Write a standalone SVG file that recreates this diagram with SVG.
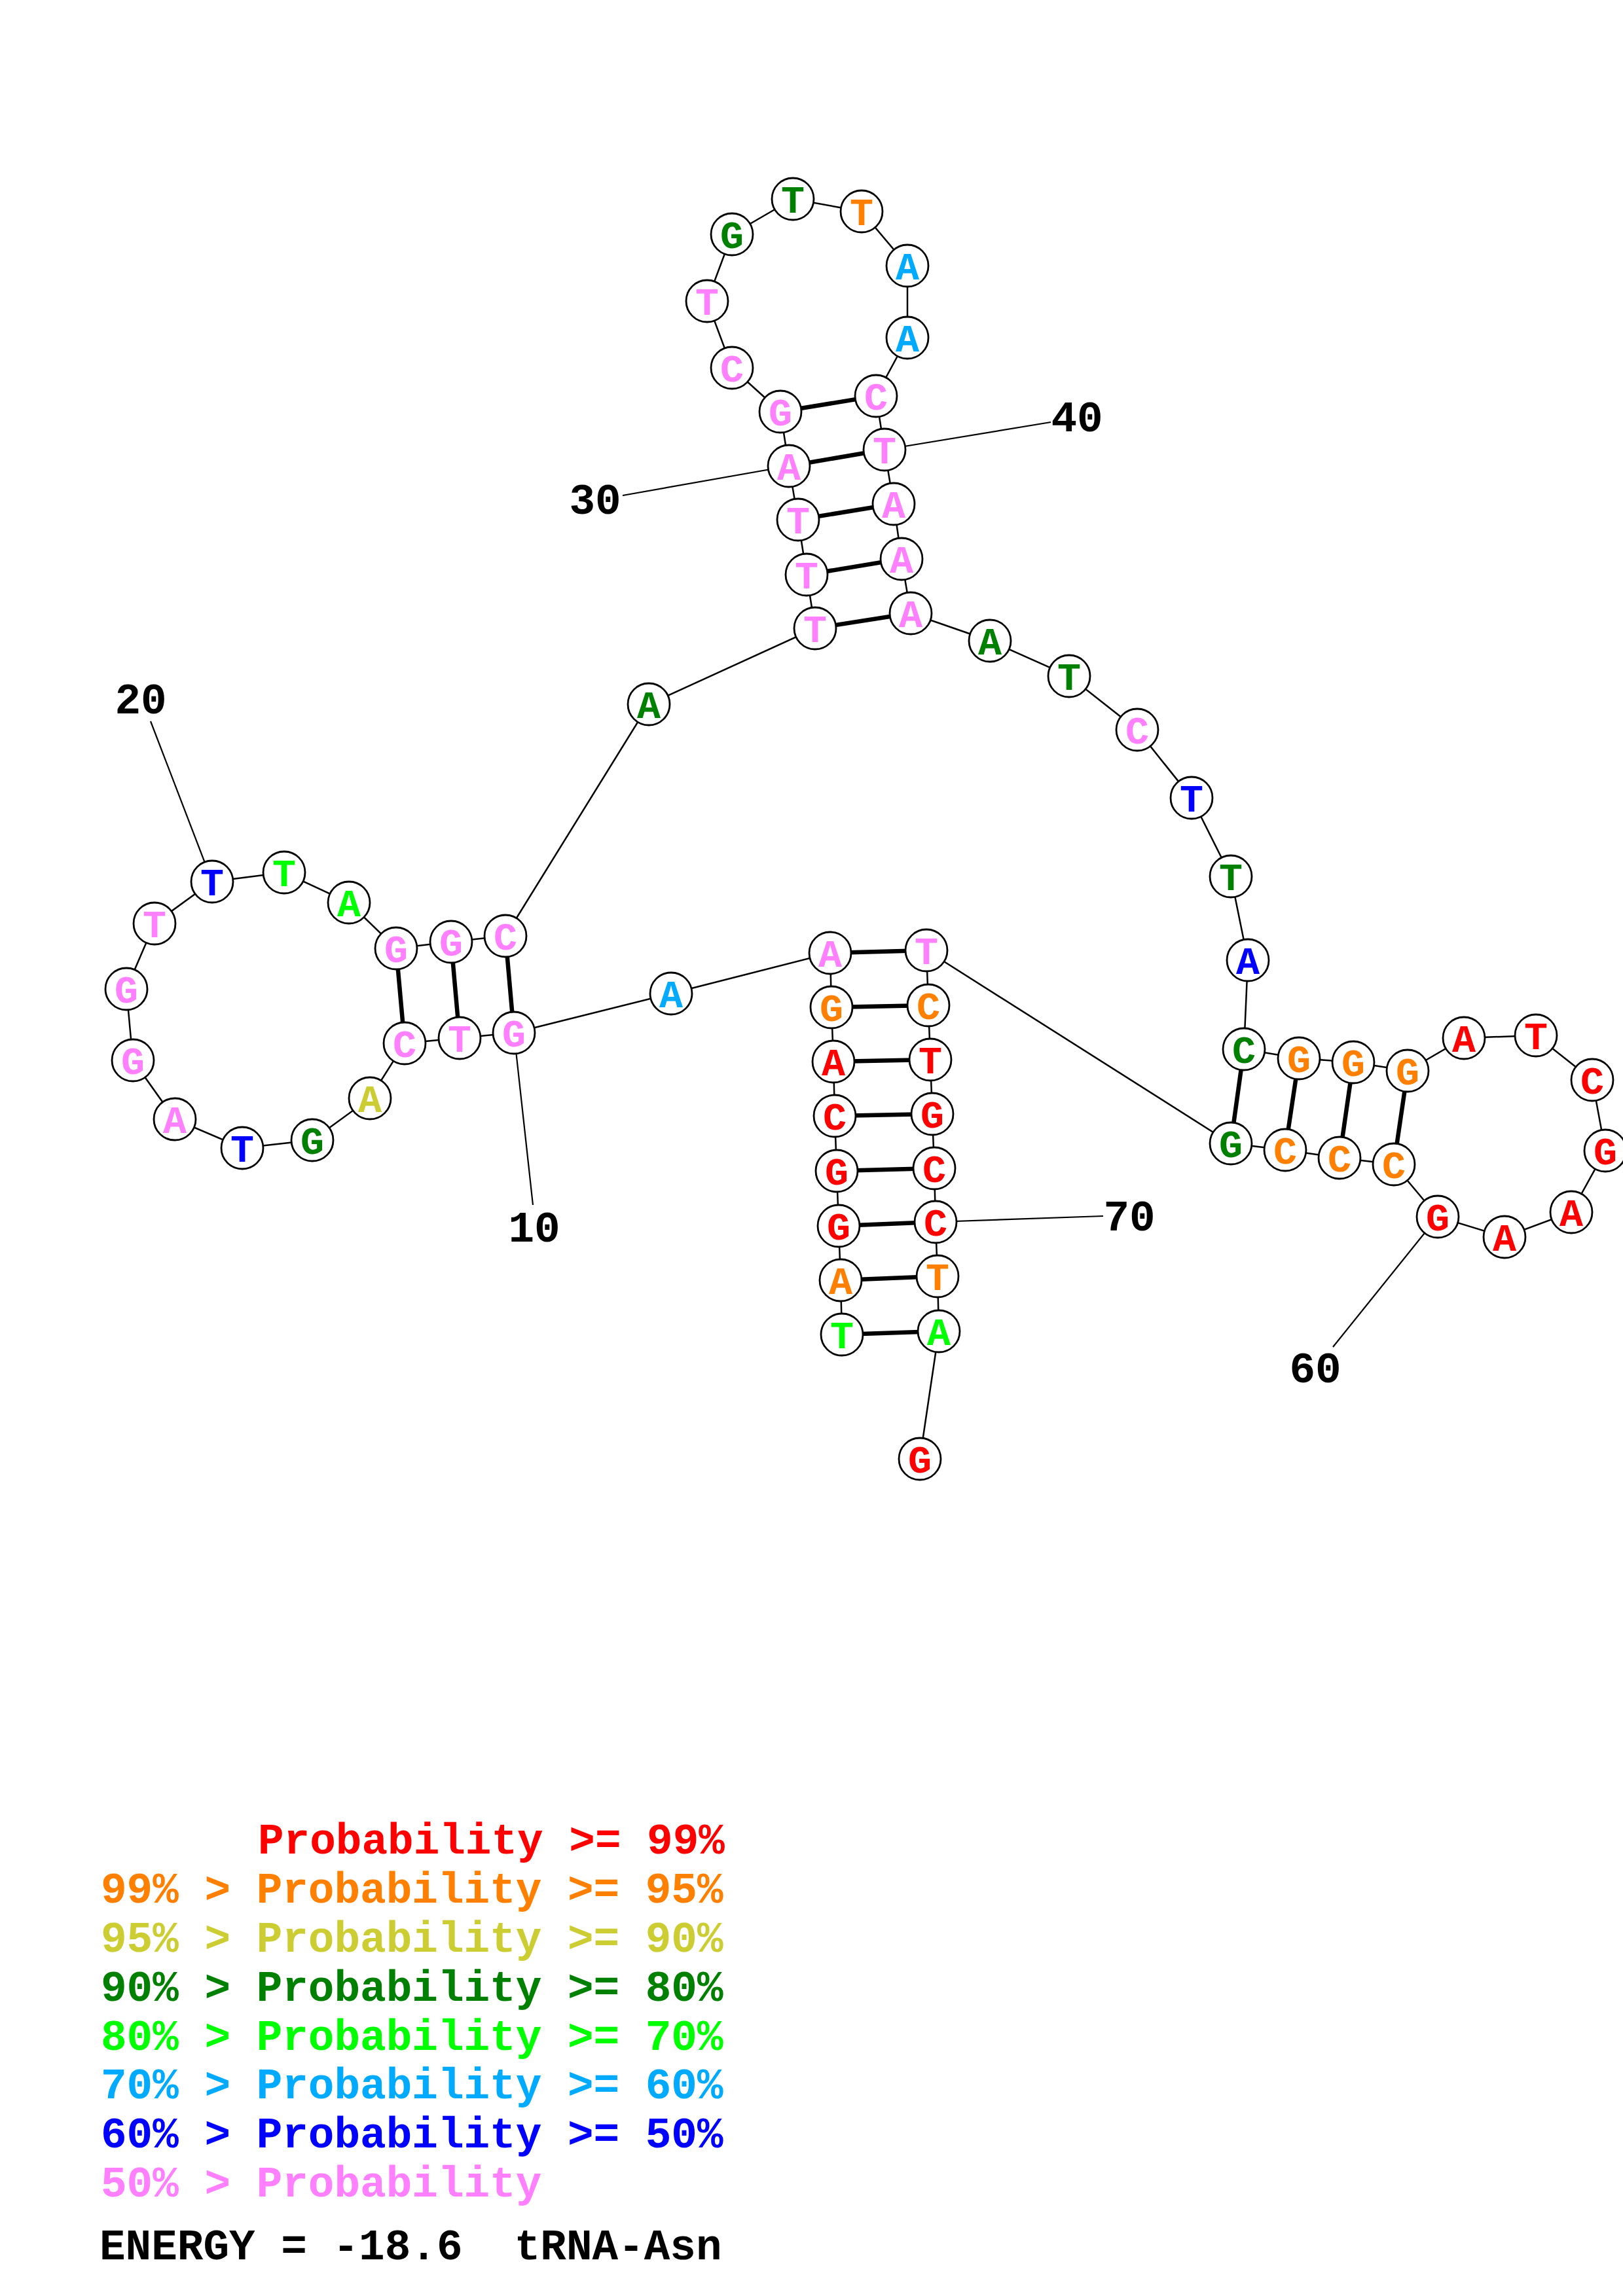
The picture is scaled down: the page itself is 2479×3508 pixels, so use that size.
<svg xmlns="http://www.w3.org/2000/svg" width="2479" height="3508" viewBox="0 0 2479 3508">
<style>
.bb{stroke:#000;stroke-width:2.5;fill:none}
.bp{stroke:#000;stroke-width:6.5;fill:none}
.pt{stroke:#000;stroke-width:2.2;fill:none}
.n circle{fill:#fff;stroke:#000;stroke-width:2.8}
.n text{font-family:"Liberation Mono","Courier New",monospace;font-weight:bold;font-size:60px;text-anchor:middle}
.lab{font-family:"Liberation Mono","Courier New",monospace;font-weight:bold;font-size:66px;text-anchor:middle;fill:#000}
.leg{font-family:"Liberation Mono","Courier New",monospace;font-weight:bold;font-size:66px;white-space:pre}
.r{fill:#FF0000}.o{fill:#FF8000}.y{fill:#CCCC33}.dg{fill:#008000}.g{fill:#00FF00}.s{fill:#00AAFF}.b{fill:#0000FF}.p{fill:#FF80FF}.k{fill:#000}
</style>
<rect width="2479" height="3508" fill="#fff"/>
<g id="connectors">
<polyline class="bb" points="1286,2039 1284,1956 1281,1873 1278,1789 1275,1705 1273,1622 1270,1539 1268,1456 1025,1518 785,1578 702,1586 618,1594 565,1678 477,1742 370,1754 267,1710 203,1620 193,1511 236,1411 324,1347 434,1333 533,1379 605,1449 689,1439 772,1430 991,1076 1245,960 1232,878 1219,794 1205,712 1192,629 1118,562 1080,460 1118,358 1211,304 1316,323 1386,406 1386,516 1338,605 1351,687 1365,770 1377,854 1391,937 1512,979 1633,1033 1737,1115 1820,1219 1880,1339 1906,1467 1900,1603 1984,1617 2067,1623 2150,1636 2236,1586 2346,1582 2432,1650 2452,1758 2400,1852 2298,1890 2196,1859 2129,1779 2046,1769 1963,1757 1880,1747 1415,1452 1418,1536 1421,1619 1424,1702 1427,1785 1429,1867 1432,1950 1434,2034 1405,2229"/>
<line class="bp" x1="1286" y1="2039" x2="1434" y2="2034"/>
<line class="bp" x1="1284" y1="1956" x2="1432" y2="1950"/>
<line class="bp" x1="1281" y1="1873" x2="1429" y2="1867"/>
<line class="bp" x1="1278" y1="1789" x2="1427" y2="1785"/>
<line class="bp" x1="1275" y1="1705" x2="1424" y2="1702"/>
<line class="bp" x1="1273" y1="1622" x2="1421" y2="1619"/>
<line class="bp" x1="1270" y1="1539" x2="1418" y2="1536"/>
<line class="bp" x1="1268" y1="1456" x2="1415" y2="1452"/>
<line class="bp" x1="785" y1="1578" x2="772" y2="1430"/>
<line class="bp" x1="702" y1="1586" x2="689" y2="1439"/>
<line class="bp" x1="618" y1="1594" x2="605" y2="1449"/>
<line class="bp" x1="1245" y1="960" x2="1391" y2="937"/>
<line class="bp" x1="1232" y1="878" x2="1377" y2="854"/>
<line class="bp" x1="1219" y1="794" x2="1365" y2="770"/>
<line class="bp" x1="1205" y1="712" x2="1351" y2="687"/>
<line class="bp" x1="1192" y1="629" x2="1338" y2="605"/>
<line class="bp" x1="1900" y1="1603" x2="1880" y2="1747"/>
<line class="bp" x1="1984" y1="1617" x2="1963" y2="1757"/>
<line class="bp" x1="2067" y1="1623" x2="2046" y2="1769"/>
<line class="bp" x1="2150" y1="1636" x2="2129" y2="1779"/>
<line class="pt" x1="785" y1="1578" x2="814" y2="1841"/>
<line class="pt" x1="324" y1="1347" x2="230" y2="1102"/>
<line class="pt" x1="1205" y1="712" x2="951" y2="757"/>
<line class="pt" x1="1351" y1="687" x2="1605" y2="645"/>
<line class="pt" x1="2196" y1="1859" x2="2036" y2="2058"/>
<line class="pt" x1="1429" y1="1867" x2="1685" y2="1858"/>
</g>
<g id="n1" class="n"><circle cx="1286" cy="2039" r="32"/><text x="1286" y="2060" class="g">T</text></g>
<g id="n2" class="n"><circle cx="1284" cy="1956" r="32"/><text x="1284" y="1977" class="o">A</text></g>
<g id="n3" class="n"><circle cx="1281" cy="1873" r="32"/><text x="1281" y="1894" class="r">G</text></g>
<g id="n4" class="n"><circle cx="1278" cy="1789" r="32"/><text x="1278" y="1810" class="r">G</text></g>
<g id="n5" class="n"><circle cx="1275" cy="1705" r="32"/><text x="1275" y="1726" class="r">C</text></g>
<g id="n6" class="n"><circle cx="1273" cy="1622" r="32"/><text x="1273" y="1643" class="r">A</text></g>
<g id="n7" class="n"><circle cx="1270" cy="1539" r="32"/><text x="1270" y="1560" class="o">G</text></g>
<g id="n8" class="n"><circle cx="1268" cy="1456" r="32"/><text x="1268" y="1477" class="p">A</text></g>
<g id="n9" class="n"><circle cx="1025" cy="1518" r="32"/><text x="1025" y="1539" class="s">A</text></g>
<g id="n10" class="n"><circle cx="785" cy="1578" r="32"/><text x="785" y="1599" class="p">G</text></g>
<g id="n11" class="n"><circle cx="702" cy="1586" r="32"/><text x="702" y="1607" class="p">T</text></g>
<g id="n12" class="n"><circle cx="618" cy="1594" r="32"/><text x="618" y="1615" class="p">C</text></g>
<g id="n13" class="n"><circle cx="565" cy="1678" r="32"/><text x="565" y="1699" class="y">A</text></g>
<g id="n14" class="n"><circle cx="477" cy="1742" r="32"/><text x="477" y="1763" class="dg">G</text></g>
<g id="n15" class="n"><circle cx="370" cy="1754" r="32"/><text x="370" y="1775" class="b">T</text></g>
<g id="n16" class="n"><circle cx="267" cy="1710" r="32"/><text x="267" y="1731" class="p">A</text></g>
<g id="n17" class="n"><circle cx="203" cy="1620" r="32"/><text x="203" y="1641" class="p">G</text></g>
<g id="n18" class="n"><circle cx="193" cy="1511" r="32"/><text x="193" y="1532" class="p">G</text></g>
<g id="n19" class="n"><circle cx="236" cy="1411" r="32"/><text x="236" y="1432" class="p">T</text></g>
<g id="n20" class="n"><circle cx="324" cy="1347" r="32"/><text x="324" y="1368" class="b">T</text></g>
<g id="n21" class="n"><circle cx="434" cy="1333" r="32"/><text x="434" y="1354" class="g">T</text></g>
<g id="n22" class="n"><circle cx="533" cy="1379" r="32"/><text x="533" y="1400" class="g">A</text></g>
<g id="n23" class="n"><circle cx="605" cy="1449" r="32"/><text x="605" y="1470" class="p">G</text></g>
<g id="n24" class="n"><circle cx="689" cy="1439" r="32"/><text x="689" y="1460" class="p">G</text></g>
<g id="n25" class="n"><circle cx="772" cy="1430" r="32"/><text x="772" y="1451" class="p">C</text></g>
<g id="n26" class="n"><circle cx="991" cy="1076" r="32"/><text x="991" y="1097" class="dg">A</text></g>
<g id="n27" class="n"><circle cx="1245" cy="960" r="32"/><text x="1245" y="981" class="p">T</text></g>
<g id="n28" class="n"><circle cx="1232" cy="878" r="32"/><text x="1232" y="899" class="p">T</text></g>
<g id="n29" class="n"><circle cx="1219" cy="794" r="32"/><text x="1219" y="815" class="p">T</text></g>
<g id="n30" class="n"><circle cx="1205" cy="712" r="32"/><text x="1205" y="733" class="p">A</text></g>
<g id="n31" class="n"><circle cx="1192" cy="629" r="32"/><text x="1192" y="650" class="p">G</text></g>
<g id="n32" class="n"><circle cx="1118" cy="562" r="32"/><text x="1118" y="583" class="p">C</text></g>
<g id="n33" class="n"><circle cx="1080" cy="460" r="32"/><text x="1080" y="481" class="p">T</text></g>
<g id="n34" class="n"><circle cx="1118" cy="358" r="32"/><text x="1118" y="379" class="dg">G</text></g>
<g id="n35" class="n"><circle cx="1211" cy="304" r="32"/><text x="1211" y="325" class="dg">T</text></g>
<g id="n36" class="n"><circle cx="1316" cy="323" r="32"/><text x="1316" y="344" class="o">T</text></g>
<g id="n37" class="n"><circle cx="1386" cy="406" r="32"/><text x="1386" y="427" class="s">A</text></g>
<g id="n38" class="n"><circle cx="1386" cy="516" r="32"/><text x="1386" y="537" class="s">A</text></g>
<g id="n39" class="n"><circle cx="1338" cy="605" r="32"/><text x="1338" y="626" class="p">C</text></g>
<g id="n40" class="n"><circle cx="1351" cy="687" r="32"/><text x="1351" y="708" class="p">T</text></g>
<g id="n41" class="n"><circle cx="1365" cy="770" r="32"/><text x="1365" y="791" class="p">A</text></g>
<g id="n42" class="n"><circle cx="1377" cy="854" r="32"/><text x="1377" y="875" class="p">A</text></g>
<g id="n43" class="n"><circle cx="1391" cy="937" r="32"/><text x="1391" y="958" class="p">A</text></g>
<g id="n44" class="n"><circle cx="1512" cy="979" r="32"/><text x="1512" y="1000" class="dg">A</text></g>
<g id="n45" class="n"><circle cx="1633" cy="1033" r="32"/><text x="1633" y="1054" class="dg">T</text></g>
<g id="n46" class="n"><circle cx="1737" cy="1115" r="32"/><text x="1737" y="1136" class="p">C</text></g>
<g id="n47" class="n"><circle cx="1820" cy="1219" r="32"/><text x="1820" y="1240" class="b">T</text></g>
<g id="n48" class="n"><circle cx="1880" cy="1339" r="32"/><text x="1880" y="1360" class="dg">T</text></g>
<g id="n49" class="n"><circle cx="1906" cy="1467" r="32"/><text x="1906" y="1488" class="b">A</text></g>
<g id="n50" class="n"><circle cx="1900" cy="1603" r="32"/><text x="1900" y="1624" class="dg">C</text></g>
<g id="n51" class="n"><circle cx="1984" cy="1617" r="32"/><text x="1984" y="1638" class="o">G</text></g>
<g id="n52" class="n"><circle cx="2067" cy="1623" r="32"/><text x="2067" y="1644" class="o">G</text></g>
<g id="n53" class="n"><circle cx="2150" cy="1636" r="32"/><text x="2150" y="1657" class="o">G</text></g>
<g id="n54" class="n"><circle cx="2236" cy="1586" r="32"/><text x="2236" y="1607" class="r">A</text></g>
<g id="n55" class="n"><circle cx="2346" cy="1582" r="32"/><text x="2346" y="1603" class="r">T</text></g>
<g id="n56" class="n"><circle cx="2432" cy="1650" r="32"/><text x="2432" y="1671" class="r">C</text></g>
<g id="n57" class="n"><circle cx="2452" cy="1758" r="32"/><text x="2452" y="1779" class="r">G</text></g>
<g id="n58" class="n"><circle cx="2400" cy="1852" r="32"/><text x="2400" y="1873" class="r">A</text></g>
<g id="n59" class="n"><circle cx="2298" cy="1890" r="32"/><text x="2298" y="1911" class="r">A</text></g>
<g id="n60" class="n"><circle cx="2196" cy="1859" r="32"/><text x="2196" y="1880" class="r">G</text></g>
<g id="n61" class="n"><circle cx="2129" cy="1779" r="32"/><text x="2129" y="1800" class="o">C</text></g>
<g id="n62" class="n"><circle cx="2046" cy="1769" r="32"/><text x="2046" y="1790" class="o">C</text></g>
<g id="n63" class="n"><circle cx="1963" cy="1757" r="32"/><text x="1963" y="1778" class="o">C</text></g>
<g id="n64" class="n"><circle cx="1880" cy="1747" r="32"/><text x="1880" y="1768" class="dg">G</text></g>
<g id="n65" class="n"><circle cx="1415" cy="1452" r="32"/><text x="1415" y="1473" class="p">T</text></g>
<g id="n66" class="n"><circle cx="1418" cy="1536" r="32"/><text x="1418" y="1557" class="o">C</text></g>
<g id="n67" class="n"><circle cx="1421" cy="1619" r="32"/><text x="1421" y="1640" class="r">T</text></g>
<g id="n68" class="n"><circle cx="1424" cy="1702" r="32"/><text x="1424" y="1723" class="r">G</text></g>
<g id="n69" class="n"><circle cx="1427" cy="1785" r="32"/><text x="1427" y="1806" class="r">C</text></g>
<g id="n70" class="n"><circle cx="1429" cy="1867" r="32"/><text x="1429" y="1888" class="r">C</text></g>
<g id="n71" class="n"><circle cx="1432" cy="1950" r="32"/><text x="1432" y="1971" class="o">T</text></g>
<g id="n72" class="n"><circle cx="1434" cy="2034" r="32"/><text x="1434" y="2055" class="g">A</text></g>
<g id="n73" class="n"><circle cx="1405" cy="2229" r="32"/><text x="1405" y="2250" class="r">G</text></g>
<g id="labels">
<text class="lab" x="816" y="1897">10</text>
<text class="lab" x="215" y="1090">20</text>
<text class="lab" x="909" y="785">30</text>
<text class="lab" x="1645" y="659">40</text>
<text class="lab" x="2009" y="2112">60</text>
<text class="lab" x="1725" y="1880">70</text>
</g>
<g id="legend">
<text class="leg r" x="394" y="2832">Probability &gt;= 99%</text>
<text class="leg o" x="154" y="2907">99% &gt; Probability &gt;= 95%</text>
<text class="leg y" x="154" y="2982">95% &gt; Probability &gt;= 90%</text>
<text class="leg dg" x="154" y="3057">90% &gt; Probability &gt;= 80%</text>
<text class="leg g" x="154" y="3132">80% &gt; Probability &gt;= 70%</text>
<text class="leg s" x="154" y="3206">70% &gt; Probability &gt;= 60%</text>
<text class="leg b" x="154" y="3281">60% &gt; Probability &gt;= 50%</text>
<text class="leg p" x="154" y="3356">50% &gt; Probability</text>
<text class="leg k" x="152" y="3452">ENERGY = -18.6  tRNA-Asn</text>
</g>
</svg>
